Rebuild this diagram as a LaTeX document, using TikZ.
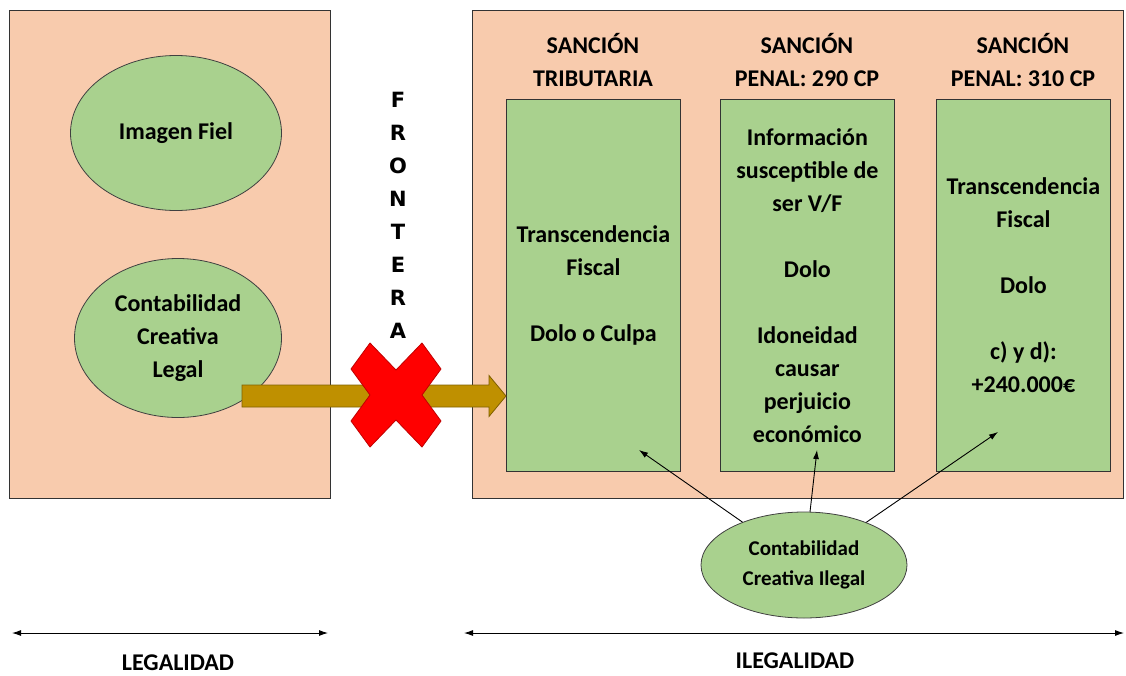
\documentclass[tikz,border=0pt]{standalone}
\usepackage{fontspec}
\setmainfont{Carlito}
\newfontfamily\borderfont{DejaVu Sans}
\usetikzlibrary{shapes.geometric,arrows.meta}
\definecolor{salmon}{HTML}{F8CBAD}
\definecolor{leaf}{HTML}{A9D18E}
\definecolor{ochre}{HTML}{BF9000}
\definecolor{ochreline}{HTML}{7F6000}
\definecolor{xred}{HTML}{FF0000}
\definecolor{xredline}{HTML}{C00000}
\begin{document}
\begin{tikzpicture}[x=1pt,y=-1pt,
    panel/.style={draw=black!80,fill=salmon,line width=0.8pt,anchor=north west,inner sep=0pt},
    txt/.style={font=\bfseries\fontsize{24}{33}\selectfont,align=center,text=black},
    crit/.style={txt,draw=black!80,fill=leaf,line width=0.8pt,anchor=north west,
      minimum width=174pt,minimum height=372pt,inner sep=0pt},
    blob/.style={ellipse,draw=black!75,fill=leaf,line width=0.8pt,inner sep=0pt},
    goldarrow/.style={draw=ochreline,fill=ochre,line width=0.8pt,line join=miter},
    xmark/.style={draw=xredline,fill=xred,line width=0.8pt,line join=round},
    span/.style={{Latex[length=9pt,width=6pt]}-{Latex[length=9pt,width=6pt]},line width=0.9pt},
  ]
  \useasboundingbox (0,0) rectangle (1126,675);
  % legal side and illegal side
  \draw
    (9,9.5) node[panel,minimum width=321pt,minimum height=488.5pt] (legal) {}
    (471.5,9.5) node[panel,minimum width=651pt,minimum height=488.5pt] (illegal) {};
  \draw
    (176,133) node[blob,txt,minimum width=211pt,minimum height=155pt] (fiel) {Imagen Fiel}
    (178,338) node[blob,txt,minimum width=207pt,minimum height=159pt] (creativa) {Contabilidad\\Creativa\\Legal};
  % sanctions
  \draw
    (593,60) node[txt] (h1) {SANCIÓN\\TRIBUTARIA}
    (807,60) node[txt] (h2) {SANCIÓN\\PENAL: 290 CP}
    (1023,60) node[txt] (h3) {SANCIÓN\\PENAL: 310 CP};
  \draw
    (506,99) node[crit] (trib) {Transcendencia\\Fiscal\\[33pt]Dolo o Culpa}
    (720,99) node[crit] (pen290) {Información\\susceptible de\\ser V/F\\[33pt]Dolo\\[33pt]Idoneidad\\causar\\perjuicio\\económico}
    (936,99) node[crit] (pen310) {Transcendencia\\Fiscal\\[33pt]Dolo\\[33pt]c) y d):\\+240.000€};
  \draw
    (398,215) node[font=\borderfont\bfseries\fontsize{21}{33}\selectfont,align=center] (frontera) {F\\R\\O\\N\\T\\E\\R\\A};
  % crossing the border
  \coordinate (tip) at (trib.west |- 0,396);
  \draw[goldarrow] (tip) +(-264,-11) -- +(-17,-11) -- +(-17,-20.5) -- +(0,0) -- +(-17,20.5)
    -- +(-17,11) -- +(-264,11) -- cycle;
  \coordinate (veto) at (396,395);
  \draw[xmark] (veto) +(-26,-52) -- +(0,-25) -- +(26,-52) -- +(45,-26) -- +(26,0) -- +(45,26)
    -- +(26,52) -- +(0,25) -- +(-26,52) -- +(-45,26) -- +(-26,0) -- +(-45,-26) -- cycle;
  % illegal creative accounting
  \draw
    (804,565) node[blob,font=\bfseries\fontsize{21}{30}\selectfont,align=center,
      minimum width=206pt,minimum height=106pt] (ilegal) {Contabilidad\\Creativa Ilegal};
  \coordinate (t1) at (639,450);
  \coordinate (t2) at (817,450);
  \coordinate (t3) at (998,432);
  \begin{scope}[-{Latex[length=9pt,width=6pt]},line width=0.9pt]
    \draw (ilegal) to (t1);
    \draw (ilegal) to (t2);
    \draw (ilegal) to (t3);
  \end{scope}
  % ranges
  \coordinate (l1) at (12,633);
  \coordinate (l2) at (328,633);
  \coordinate (i1) at (464,633);
  \coordinate (i2) at (1124,633);
  \draw[span] (l1) -- (l2);
  \draw[span] (i1) -- (i2);
  \draw
    (178,663) node[txt] (legalidad) {LEGALIDAD}
    (795,661) node[txt] (ilegalidad) {ILEGALIDAD};
\end{tikzpicture}
\end{document}
